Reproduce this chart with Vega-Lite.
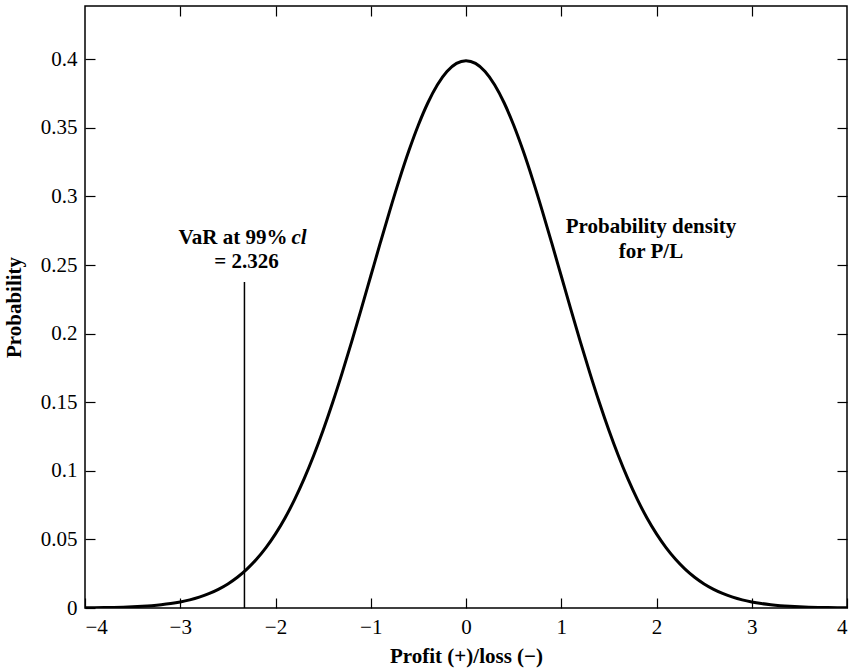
{
  "$schema": "https://vega.github.io/schema/vega-lite/v6.json",
  "width": 762,
  "height": 602,
  "autosize": {"type": "none"},
  "padding": {"left": 85, "top": 6, "right": 4, "bottom": 63},
  "background": "white",
  "config": {
    "view": {"stroke": "#000", "strokeWidth": 1.5},
    "font": "Liberation Serif",
    "axis": {
      "labelFont": "Liberation Serif",
      "labelFontSize": 21,
      "labelColor": "#000",
      "titleFont": "Liberation Serif",
      "titleFontSize": 21,
      "titleFontWeight": "bold",
      "titleColor": "#000",
      "tickColor": "#000",
      "tickSize": -10,
      "tickWidth": 1.2,
      "domain": false,
      "grid": false,
      "labelPadding": 18
    }
  },
  "datasets": {
    "curve": [
      {"x": -4.0, "y": 0.000134}, {"x": -3.9, "y": 0.000199}, {"x": -3.8, "y": 0.000292}, {"x": -3.7, "y": 0.000425},
      {"x": -3.6, "y": 0.000612}, {"x": -3.5, "y": 0.000873}, {"x": -3.4, "y": 0.001232}, {"x": -3.3, "y": 0.001723},
      {"x": -3.2, "y": 0.002384}, {"x": -3.1, "y": 0.003267}, {"x": -3.0, "y": 0.004432}, {"x": -2.9, "y": 0.005953},
      {"x": -2.8, "y": 0.007915}, {"x": -2.7, "y": 0.010421}, {"x": -2.6, "y": 0.013583}, {"x": -2.5, "y": 0.017528},
      {"x": -2.4, "y": 0.022395}, {"x": -2.3, "y": 0.028327}, {"x": -2.2, "y": 0.035475}, {"x": -2.1, "y": 0.043984},
      {"x": -2.0, "y": 0.053991}, {"x": -1.9, "y": 0.065616}, {"x": -1.8, "y": 0.07895}, {"x": -1.7, "y": 0.094049},
      {"x": -1.6, "y": 0.110921}, {"x": -1.5, "y": 0.129518}, {"x": -1.4, "y": 0.149727}, {"x": -1.3, "y": 0.171369},
      {"x": -1.2, "y": 0.194186}, {"x": -1.1, "y": 0.217852}, {"x": -1.0, "y": 0.241971}, {"x": -0.9, "y": 0.266085},
      {"x": -0.8, "y": 0.289692}, {"x": -0.7, "y": 0.312254}, {"x": -0.6, "y": 0.333225}, {"x": -0.5, "y": 0.352065},
      {"x": -0.4, "y": 0.36827}, {"x": -0.3, "y": 0.381388}, {"x": -0.2, "y": 0.391043}, {"x": -0.1, "y": 0.396953},
      {"x": 0.0, "y": 0.398942},
      {"x": 0.1, "y": 0.396953}, {"x": 0.2, "y": 0.391043}, {"x": 0.3, "y": 0.381388}, {"x": 0.4, "y": 0.36827},
      {"x": 0.5, "y": 0.352065}, {"x": 0.6, "y": 0.333225}, {"x": 0.7, "y": 0.312254}, {"x": 0.8, "y": 0.289692},
      {"x": 0.9, "y": 0.266085}, {"x": 1.0, "y": 0.241971}, {"x": 1.1, "y": 0.217852}, {"x": 1.2, "y": 0.194186},
      {"x": 1.3, "y": 0.171369}, {"x": 1.4, "y": 0.149727}, {"x": 1.5, "y": 0.129518}, {"x": 1.6, "y": 0.110921},
      {"x": 1.7, "y": 0.094049}, {"x": 1.8, "y": 0.07895}, {"x": 1.9, "y": 0.065616}, {"x": 2.0, "y": 0.053991},
      {"x": 2.1, "y": 0.043984}, {"x": 2.2, "y": 0.035475}, {"x": 2.3, "y": 0.028327}, {"x": 2.4, "y": 0.022395},
      {"x": 2.5, "y": 0.017528}, {"x": 2.6, "y": 0.013583}, {"x": 2.7, "y": 0.010421}, {"x": 2.8, "y": 0.007915},
      {"x": 2.9, "y": 0.005953}, {"x": 3.0, "y": 0.004432}, {"x": 3.1, "y": 0.003267}, {"x": 3.2, "y": 0.002384},
      {"x": 3.3, "y": 0.001723}, {"x": 3.4, "y": 0.001232}, {"x": 3.5, "y": 0.000873}, {"x": 3.6, "y": 0.000612},
      {"x": 3.7, "y": 0.000425}, {"x": 3.8, "y": 0.000292}, {"x": 3.9, "y": 0.000199}, {"x": 4.0, "y": 0.000134}
    ],
    "var": [{"x": -2.326, "y": 0, "y2": 0.2377}],
    "varlabel": [{"x": -2.326, "y1": 0.2696, "y2": 0.2521, "t1": "VaR at 99%", "t2": "cl", "t3": "= 2.326"}],
    "density": [{"x": 1.942, "y": 0.278, "t": ["Probability density", "for P/L"]}]
  },
  "resolve": {"axis": {"x": "independent", "y": "independent"}},
  "layer": [
    {
      "data": {"name": "curve"},
      "mark": {"type": "line", "color": "#000", "strokeWidth": 3, "interpolate": "monotone", "clip": true},
      "encoding": {
        "x": {
          "field": "x", "type": "quantitative",
          "scale": {"domain": [-4, 4], "nice": false, "zero": false},
          "axis": {"values": [-4, -3, -2, -1, 0, 1, 2, 3, 4], "format": "d", "title": "Profit (+)/loss (\u2212)", "titlePadding": 8}
        },
        "y": {
          "field": "y", "type": "quantitative",
          "scale": {"domain": [0, 0.4388], "nice": false},
          "axis": {"values": [0, 0.05, 0.1, 0.15, 0.2, 0.25, 0.3, 0.35, 0.4], "format": "~g", "title": "Probability", "titlePadding": 16}
        }
      }
    },
    {
      "data": {"name": "var"},
      "mark": {"type": "rule", "color": "#000", "strokeWidth": 1.5},
      "encoding": {
        "x": {"field": "x", "type": "quantitative",
          "axis": {"orient": "top", "values": [-3, -2, -1, 0, 1, 2, 3], "labels": false, "title": null}},
        "y": {"field": "y", "type": "quantitative",
          "axis": {"orient": "right", "values": [0.05, 0.1, 0.15, 0.2, 0.25, 0.3, 0.35, 0.4], "labels": false, "title": null}},
        "y2": {"field": "y2"}
      }
    },
    {
      "data": {"name": "varlabel"},
      "mark": {"type": "text", "fontWeight": "bold", "fontSize": 21, "font": "Liberation Serif", "align": "right", "baseline": "middle", "dx": 43, "color": "#000"},
      "encoding": {
        "x": {"field": "x", "type": "quantitative", "axis": null},
        "y": {"field": "y1", "type": "quantitative", "axis": null},
        "text": {"field": "t1"}
      }
    },
    {
      "data": {"name": "varlabel"},
      "mark": {"type": "text", "fontWeight": "bold", "fontStyle": "italic", "fontSize": 21, "font": "Liberation Serif", "align": "left", "baseline": "middle", "dx": 47, "color": "#000"},
      "encoding": {
        "x": {"field": "x", "type": "quantitative", "axis": null},
        "y": {"field": "y1", "type": "quantitative", "axis": null},
        "text": {"field": "t2"}
      }
    },
    {
      "data": {"name": "varlabel"},
      "mark": {"type": "text", "fontWeight": "bold", "fontSize": 21, "font": "Liberation Serif", "align": "center", "baseline": "middle", "dx": 2, "color": "#000"},
      "encoding": {
        "x": {"field": "x", "type": "quantitative", "axis": null},
        "y": {"field": "y2", "type": "quantitative", "axis": null},
        "text": {"field": "t3"}
      }
    },
    {
      "data": {"name": "density"},
      "mark": {"type": "text", "fontWeight": "bold", "fontSize": 21, "font": "Liberation Serif", "align": "center", "baseline": "middle", "lineHeight": 25, "color": "#000"},
      "encoding": {
        "x": {"field": "x", "type": "quantitative", "axis": null},
        "y": {"field": "y", "type": "quantitative", "axis": null},
        "text": {"field": "t"}
      }
    }
  ]
}
